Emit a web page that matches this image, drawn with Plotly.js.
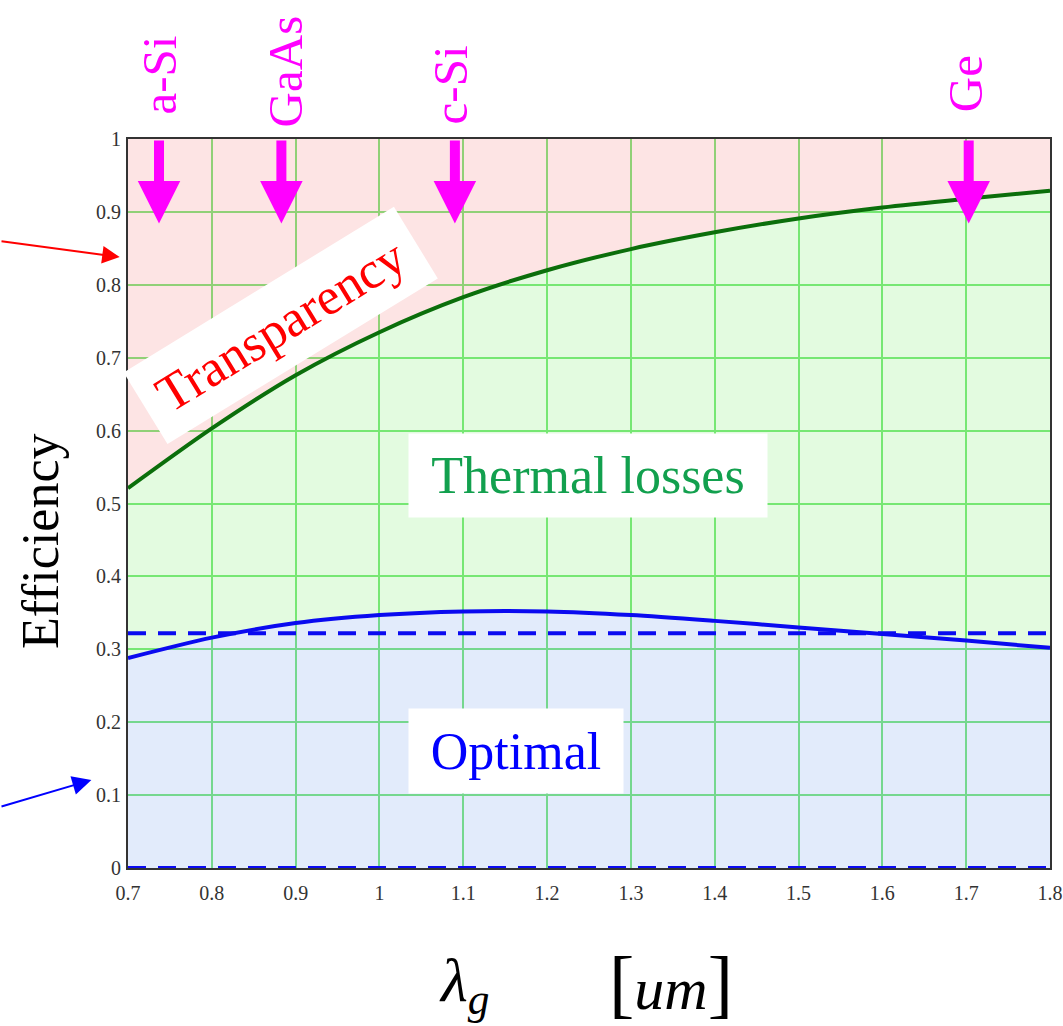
<!DOCTYPE html>
<html>
<head>
<meta charset="utf-8">
<script src="https://cdn.plot.ly/plotly-3.0.1.min.js"></script>
<style>
  html, body { margin: 0; padding: 0; background: #ffffff; }
  #chart { width: 1063px; height: 1026px; }
</style>
</head>
<body>
<div id="chart"></div>
<script>
// ---------- data ----------
const lambdaG = [0.7, 0.8, 0.9, 1.0, 1.1, 1.2, 1.3, 1.4, 1.5, 1.6, 1.7, 1.8];
const etaLimit = [0.521, 0.603, 0.676, 0.735, 0.783, 0.820, 0.849, 0.872, 0.891, 0.906, 0.918, 0.929];
const etaOptimal = [0.288, 0.316, 0.336, 0.347, 0.352, 0.352, 0.347, 0.339, 0.330, 0.321, 0.312, 0.302];
const etaTop = [1, 1, 1, 1, 1, 1, 1, 1, 1, 1, 1, 1];
const refLevelX = [0.7, 1.8];
const refLevelY = [0.322, 0.322];
const zeroLevelY = [0, 0];

const materials = ['a-Si', 'GaAs', 'c-Si', 'Ge'];
const materialLambda = [0.737, 0.883, 1.090, 1.703];

const xTickVals = [0.7, 0.8, 0.9, 1.0, 1.1, 1.2, 1.3, 1.4, 1.5, 1.6, 1.7, 1.8];
const xTickText = ['0.7', '0.8', '0.9', '1', '1.1', '1.2', '1.3', '1.4', '1.5', '1.6', '1.7', '1.8'];
const yTickVals = [0, 0.1, 0.2, 0.3, 0.4, 0.5, 0.6, 0.7, 0.8, 0.9, 1];
const yTickText = ['0', '0.1', '0.2', '0.3', '0.4', '0.5', '0.6', '0.7', '0.8', '0.9', '1'];

// ---------- style ----------
const SERIF = '"Liberation Serif", "Times New Roman", serif';
const labelShiftY = [22, 10, 13, 25];   // pixel offsets for the rotated material labels
const labelShiftX = [0, 4, -4, -3];

const traces = [
  { x: lambdaG, y: etaOptimal, type: 'scatter', mode: 'lines', fill: 'tozeroy',
    fillcolor: 'rgba(139,175,239,0.25)', line: { color: '#0a0af0', width: 4, shape: 'spline', smoothing: 0.8 },
    hoverinfo: 'skip', showlegend: false },
  { x: lambdaG, y: etaLimit, type: 'scatter', mode: 'lines', fill: 'tonexty',
    fillcolor: 'rgba(143,239,131,0.25)', line: { color: '#0b6e0b', width: 4, shape: 'spline', smoothing: 0.8 },
    hoverinfo: 'skip', showlegend: false },
  { x: lambdaG, y: etaTop, type: 'scatter', mode: 'lines', fill: 'tonexty',
    fillcolor: 'rgba(247,147,147,0.25)', line: { width: 0, color: 'rgba(0,0,0,0)' },
    hoverinfo: 'skip', showlegend: false },
  { x: refLevelX, y: refLevelY, type: 'scatter', mode: 'lines',
    line: { color: '#0a0af0', width: 4, dash: '18px,12px' }, hoverinfo: 'skip', showlegend: false },
  { x: refLevelX, y: zeroLevelY, type: 'scatter', mode: 'lines',
    line: { color: '#0a0af0', width: 4, dash: '18px,12px' }, hoverinfo: 'skip', showlegend: false }
];

const annotations = [];

// material arrows + labels
materials.forEach((m, i) => {
  annotations.push({
    x: materialLambda[i], y: 0.884, xref: 'x', yref: 'y',
    ax: materialLambda[i], ay: 1.0, axref: 'x', ayref: 'y',
    text: '', showarrow: true, arrowhead: 2, arrowsize: 0.85, arrowwidth: 10,
    arrowcolor: '#ff00ff', standoff: 0, startstandoff: 0
  });
  annotations.push({
    x: materialLambda[i], y: 1.0, xref: 'x', yref: 'paper',
    text: m, showarrow: false, textangle: -90,
    xanchor: 'center', yanchor: 'bottom', yshift: labelShiftY[i], xshift: labelShiftX[i],
    font: { family: SERIF, size: 49, color: '#ff00ff' }
  });
});

// region labels
annotations.push({
  x: 0.1656, y: 0.7435, xref: 'paper', yref: 'paper', text: 'Transparency',
  showarrow: false, textangle: -31.5, bgcolor: '#ffffff', borderpad: 0,
  xanchor: 'center', yanchor: 'middle',
  width: 316, height: 83, font: { family: SERIF, size: 52, color: '#ff0000' }
});
annotations.push({
  x: 0.4985, y: 0.5384, xref: 'paper', yref: 'paper', text: 'Thermal losses',
  showarrow: false, bgcolor: '#ffffff', borderpad: 0,
  xanchor: 'center', yanchor: 'middle',
  width: 358, height: 83, font: { family: SERIF, size: 52, color: '#12a04e' }
});
annotations.push({
  x: 0.4205, y: 0.1605, xref: 'paper', yref: 'paper', text: 'Optimal',
  showarrow: false, bgcolor: '#ffffff', borderpad: 0,
  xanchor: 'center', yanchor: 'middle',
  width: 214, height: 84, font: { family: SERIF, size: 52, color: '#0000ff' }
});

// side pointer arrows
annotations.push({
  x: -0.009, y: 0.838, xref: 'paper', yref: 'paper', ax: -120, ay: -16,
  text: '', showarrow: true, arrowhead: 2, arrowsize: 1.75, arrowwidth: 2,
  arrowcolor: '#ff0000', standoff: 0
});
annotations.push({
  x: -0.0397, y: 0.1207, xref: 'paper', yref: 'paper', ax: -92, ay: 27,
  text: '', showarrow: true, arrowhead: 2, arrowsize: 1.9, arrowwidth: 2,
  arrowcolor: '#0000ff', standoff: 0
});

// axis titles
annotations.push({
  x: -0.095, y: 0.449, xref: 'paper', yref: 'paper', text: 'Efficiency',
  showarrow: false, textangle: -90, xanchor: 'center', yanchor: 'middle',
  font: { family: SERIF, size: 52, color: '#000000' }
});
annotations.push({
  x: 0.365, y: -0.16, xref: 'paper', yref: 'paper',
  text: '<i>λ</i><sub><i>g</i></sub>',
  showarrow: false, xanchor: 'center', yanchor: 'middle',
  font: { family: SERIF, size: 62, color: '#000000' }
});
annotations.push({
  x: 0.589, y: -0.158, xref: 'paper', yref: 'paper',
  text: '<span style="font-size:76px">[</span><i>um</i><span style="font-size:76px">]</span>',
  showarrow: false, xanchor: 'center', yanchor: 'middle',
  font: { family: SERIF, size: 60, color: '#000000' }
});

const layout = {
  width: 1063, height: 1026,
  margin: { l: 128, r: 13, t: 139, b: 158, pad: 0 },
  paper_bgcolor: '#ffffff', plot_bgcolor: '#ffffff',
  showlegend: false,
  xaxis: {
    range: [0.7, 1.8], tickvals: xTickVals, ticktext: xTickText,
    showgrid: true, gridcolor: '#6ee46e', gridwidth: 2,
    zeroline: false, showline: true, mirror: true, linecolor: '#333333', linewidth: 2,
    ticks: '', ticklabelstandoff: 6,
    tickfont: { family: SERIF, size: 20, color: '#333333' }
  },
  yaxis: {
    range: [0, 1], tickvals: yTickVals, ticktext: yTickText,
    showgrid: true, gridcolor: '#6ee46e', gridwidth: 2,
    zeroline: false, showline: true, mirror: true, linecolor: '#333333', linewidth: 2,
    ticks: '', ticklabelstandoff: 1,
    tickfont: { family: SERIF, size: 20, color: '#333333' }
  },
  annotations: annotations
};

Plotly.newPlot('chart', traces, layout, { staticPlot: true, displayModeBar: false });
</script>
</body>
</html>
